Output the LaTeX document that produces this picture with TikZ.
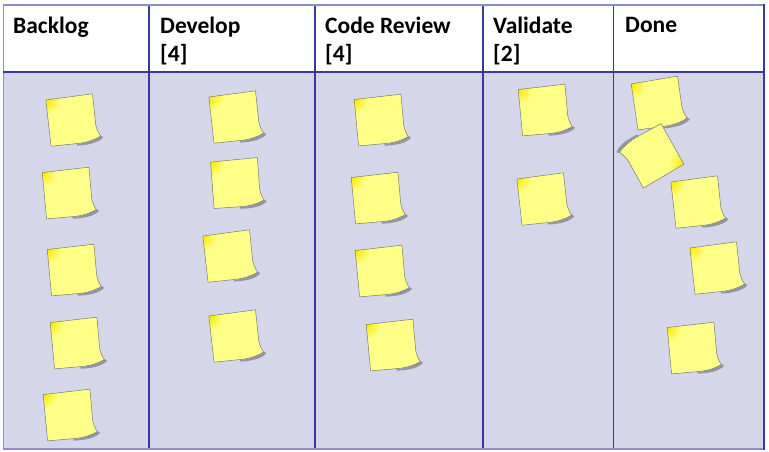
\documentclass[tikz,border=0pt]{standalone}
\usepackage{fontspec}
\setmainfont{Carlito}

\definecolor{boardfill}{RGB}{213,214,234}
\definecolor{gridblue}{RGB}{58,58,158}
\definecolor{rimblue}{RGB}{140,140,206}
\definecolor{notefill}{RGB}{255,255,136}
\definecolor{noteglow}{RGB}{250,232,0}
\definecolor{noteedge}{RGB}{120,120,110}

% outline of one sticky note, centred on the origin
\newcommand{\notepath}{(-23.5,-23) -- (23.5,-23.5) -- (23,8)
    .. controls (23.5,13) and (25,17) .. (26.5,19.5)
    .. controls (20,22.5) and (12,24) .. (4,24) -- (-24,23.5) -- cycle}

\begin{document}
\begin{tikzpicture}[
    x=1pt,
    y=-1pt,
    line join=round,
    grid line/.style={draw=gridblue, line width=1.2pt},
    rim line/.style={draw=rimblue, line width=2pt},
    heading/.style={anchor=north west, inner sep=0pt, align=left,
        font=\fontsize{23.5}{28}\selectfont\bfseries},
    note shadow/.style={fill=black, opacity=0.3},
    note edge/.style={draw=noteedge, line width=0.5pt}
]

\useasboundingbox (0,0) rectangle (769,452);

% -------------------------------------------------
% Board
% -------------------------------------------------

\fill[white] (3,5) rectangle (764,72);
\fill[boardfill] (3,72) rectangle (764,449);

% -------------------------------------------------
% Sticky notes: x / y / rotation
% -------------------------------------------------

\foreach \nx/\ny/\na in {
    72/120/7, 68/193/6, 73/270/6, 76/343/6, 69/415/6,
    235/117/7, 236/183/5, 229/256/7, 235/336/7,
    380/120/6, 377/198/6, 381/271/6, 392/345/6,
    544/110/6, 543/199/7,
    658/103/9, 652/156/210, 697/202/7, 716/268/7, 693/348/6}
{
    \begin{scope}[shift={(\nx,\ny)}, rotate=\na]

        % Curl shadow
        \fill[note shadow]
            (2,24.5) .. controls (14,24.5) and (22,22) .. (27,19)
            -- (29,21) .. controls (24,25.5) and (14,27) .. (2,26) -- cycle;

        % Paper with glow in the top left corner
        \begin{scope}
            \clip \notepath;
            \fill[notefill] (-30,-30) rectangle (30,30);
            \shade[inner color=noteglow, outer color=notefill]
                (-23.5,-23) circle (14pt);
        \end{scope}

        \draw[note edge] \notepath;

    \end{scope}
}

% -------------------------------------------------
% Grid
% -------------------------------------------------

\draw[grid line] (149,5) -- (149,449);
\draw[grid line] (315,5) -- (315,449);
\draw[grid line] (483,5) -- (483,449);
\draw[grid line] (613.5,5) -- (613.5,449);

\draw[rim line] (3,5) -- (764,5);
\draw[rim line] (3,449) -- (764,449);
\draw[draw=rimblue, line width=1pt] (3,5) -- (3,449);
\draw[draw=gridblue, line width=2pt] (764,4) -- (764,450);

\draw[draw=gridblue, line width=2.4pt] (3,72) -- (764,72);

% -------------------------------------------------
% Column headings
% -------------------------------------------------

\node[heading] (backlog) at (13,17) {Backlog};
\node[heading] (develop) at (160,17) {Develop\\{[4]}};
\node[heading] (review) at (325,17) {Code Review\\{[4]}};
\node[heading] (validate) at (493,17) {Validate\\{[2]}};
\node[heading] (done) at (625,17) {Done};

\end{tikzpicture}
\end{document}
